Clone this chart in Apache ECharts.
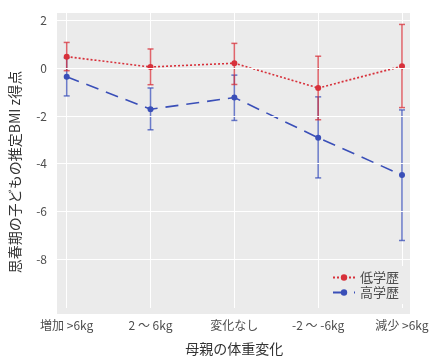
<!DOCTYPE html>
<html><head><meta charset="utf-8">
<script src="https://cdn.jsdelivr.net/npm/echarts@6/dist/echarts.min.js"></script>
<style>html,body{margin:0;padding:0;background:#fff}#c{width:432px;height:361px}</style>
</head><body><div id="c"></div>
<script>
const categories = ['増加 >6kg', '2 〜 6kg', '変化なし', '-2 〜 -6kg', '減少 >6kg'];
const lowMean  = [0.45, 0.01, 0.17, -0.89, 0.04];
const lowUpper = [1.06, 0.78, 1.02, 0.47, 1.83];
const lowLower = [-0.15, -0.75, -0.74, -2.25, -1.73];
const highMean  = [-0.41, -1.80, -1.30, -3.02, -4.62];
const highUpper = [0.40, -0.89, -0.34, -1.27, -1.83];
const highLower = [-1.23, -2.68, -2.28, -4.74, -7.42];
const yTicks = [2, 0, -2, -4, -6, -8];
const yMin = -10.31, yMax = 2.32;

const RED = '#d7303a', BLUE = '#3a4fb8';
const FONT = 'Noto Sans CJK JP';

function errData(lo, hi) { return categories.map((c, i) => [i, lo[i], hi[i]]); }
function errRender(color) {
  return function (params, api) {
    const x = api.value(0);
    const p1 = api.coord([x, api.value(1)]);
    const p2 = api.coord([x, api.value(2)]);
    const cap = 3;
    const st = { stroke: color, lineWidth: 1.5, opacity: 0.75 };
    return { type: 'group', children: [
      { type: 'line', shape: { x1: p1[0], y1: p1[1], x2: p2[0], y2: p2[1] }, style: st },
      { type: 'line', shape: { x1: p1[0] - cap, y1: p1[1], x2: p1[0] + cap, y2: p1[1] }, style: st },
      { type: 'line', shape: { x1: p2[0] - cap, y1: p2[1], x2: p2[0] + cap, y2: p2[1] }, style: st }
    ]};
  };
}

const chart = echarts.init(document.getElementById('c'), null, { renderer: 'canvas' });
chart.setOption({
  animation: false,
  backgroundColor: '#fff',
  textStyle: { fontFamily: FONT },
  grid: [
    { left: 57, right: 22, top: 13, bottom: 47, show: true, backgroundColor: '#ebebeb', borderWidth: 0 },
    { left: 66.7, right: 30, top: 13, bottom: 47 }
  ],
  xAxis: [
    { type: 'value', gridIndex: 0, min: 0, max: 1, show: false },
    { type: 'category', gridIndex: 1, data: categories, boundaryGap: false,
      axisLine: { show: false },
      axisTick: { show: true, length: 3, lineStyle: { color: '#b0b0b0' } },
      axisLabel: { margin: 11, color: '#4d4d4d', fontSize: 12, fontFamily: FONT },
      splitLine: { show: true, lineStyle: { color: '#ffffff', width: 1 } },
      name: '母親の体重変化', nameLocation: 'middle', nameGap: 34,
      nameTextStyle: { fontSize: 14, color: '#333', fontFamily: FONT } }
  ],
  yAxis: [
    { type: 'value', gridIndex: 0, min: yMin, max: yMax, splitNumber: 6,
      axisLine: { show: false }, axisTick: { show: false },
      splitLine: { show: false },
      axisLabel: { margin: 10, color: '#4d4d4d', fontSize: 12, fontFamily: FONT,
        formatter: v => (yTicks.indexOf(Math.round(v * 100) / 100) >= 0 ? String(v) : '') } },
    { type: 'value', gridIndex: 1, min: yMin, max: yMax, show: false }
  ],
  graphic: [
    { type: 'text', x: 15, y: 172, rotation: Math.PI / 2,
      style: { text: '思春期の子どもの推定BMI z得点', fontSize: 14, fill: '#333', fontFamily: FONT,
        align: 'center', verticalAlign: 'middle' } }
  ],
  legend: {
    data: ['低学歴', '高学歴'], orient: 'vertical', left: 326, top: 266,
    itemWidth: 22, itemHeight: 8, itemGap: 2,
    backgroundColor: '#ebebeb', padding: [5, 10, 5, 6],
    textStyle: { fontSize: 13, color: '#4d4d4d', fontFamily: FONT }
  },
  series: [
    { type: 'line', xAxisIndex: 0, yAxisIndex: 0, data: [], silent: true, z: 1,
      markLine: { silent: true, symbol: ['none', 'none'], label: { show: false },
        lineStyle: { color: '#ffffff', type: 'solid', width: 1 },
        data: yTicks.map(v => ({ yAxis: v })) } },
    { name: 'err-high', type: 'custom', xAxisIndex: 1, yAxisIndex: 1, z: 3,
      data: errData(highLower, highUpper), renderItem: errRender(BLUE) },
    { name: 'err-low', type: 'custom', xAxisIndex: 1, yAxisIndex: 1, z: 3,
      data: errData(lowLower, lowUpper), renderItem: errRender(RED) },
    { name: '低学歴', type: 'line', xAxisIndex: 1, yAxisIndex: 1, z: 4, data: lowMean,
      symbol: 'circle', symbolSize: 6, color: RED,
      lineStyle: { color: RED, width: 1.6, type: [2, 2] } },
    { name: '高学歴', type: 'line', xAxisIndex: 1, yAxisIndex: 1, z: 4, data: highMean,
      symbol: 'circle', symbolSize: 6, color: BLUE,
      lineStyle: { color: BLUE, width: 1.6, type: [13, 8] } }
  ]
});
</script></body></html>
